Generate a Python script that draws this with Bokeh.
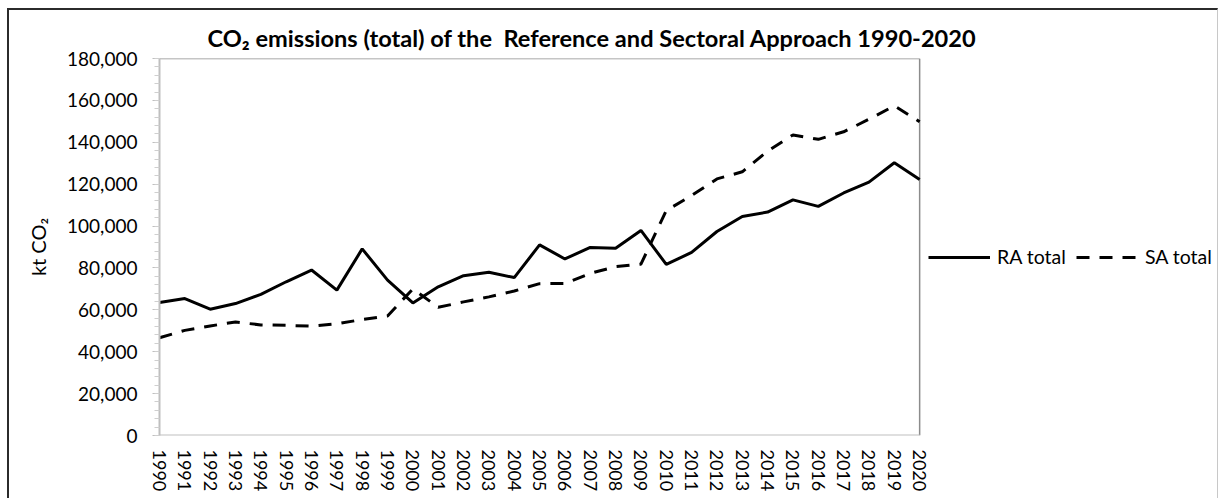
from bokeh.plotting import figure
from bokeh.models import (Range1d, FixedTicker, NumeralTickFormatter, Legend, LegendItem)
from bokeh.embed import file_html
from bokeh.resources import INLINE

years = [1990, 1991, 1992, 1993, 1994, 1995, 1996, 1997, 1998, 1999,
         2000, 2001, 2002, 2003, 2004, 2005, 2006, 2007, 2008, 2009,
         2010, 2011, 2012, 2013, 2014, 2015, 2016, 2017, 2018, 2019, 2020]
ra_total = [63500, 65400, 60300, 63000, 67400, 73400, 79000, 69400, 89100, 74200,
            63300, 71000, 76300, 77900, 75400, 91000, 84300, 89800, 89400, 97900,
            81700, 87400, 97400, 104600, 106700, 112500, 109400, 115800, 121000, 130200, 122200]
sa_total = [46700, 50200, 52300, 54200, 52800, 52600, 52200, 53300, 55400, 57100,
            70000, 61200, 63800, 66200, 69000, 72500, 72600, 77400, 80600, 81800,
            107400, 114600, 122500, 125900, 135800, 143500, 141400, 145000, 151000, 157400, 149800]
y_ticks = [0, 20000, 40000, 60000, 80000, 100000, 120000, 140000, 160000, 180000]
y_minor = list(range(0, 180001, 4000))

title_text = "CO\u2082 emissions (total) of the\u00a0 Reference and Sectoral Approach 1990-2020"
y_label = "kt CO\u2082"
series_names = ["RA total", "SA total"]

FONT = "Lato"

# plot area (years) occupies 758 px of a 1058 px frame; the rest holds the legend
x0, x1 = years[0], years[-1]
x_end = x0 + (x1 - x0) * 1058.0 / 758.0

p = figure(width=1208, height=488, output_backend="svg", toolbar_location=None,
           x_range=Range1d(x0, x_end), y_range=Range1d(0, 180000),
           min_border_left=150, min_border_right=0, min_border_top=48, min_border_bottom=65)
p.styles = {"margin-left": "7px", "margin-top": "8px",
            "border-left": "2px solid #2b2b2b", "border-top": "2px solid #2b2b2b",
            "border-right": "1px solid #c8c8c8", "box-sizing": "content-box"}

p.xgrid.visible = False
p.ygrid.visible = False
p.outline_line_color = None

# plot-area border (top/right darker, bottom axis light)
p.segment(x0=[x0, x1], y0=[y_ticks[-1], 0], x1=[x1, x1], y1=[y_ticks[-1], y_ticks[-1]],
          line_color="#8c8c8c", line_width=1.5)
p.segment(x0=[x0], y0=[0], x1=[x1], y1=[0], line_color="#bfbfbf", line_width=2)

r1 = p.line(years, ra_total, line_color="black", line_width=3)
r2 = p.line(years, sa_total, line_color="black", line_width=3, line_dash="13 10")

# title
p.title.text = title_text
p.title.align = "left"
p.title.offset = 48
p.title.text_font = FONT
p.title.text_font_size = "23.6px"
p.title.text_font_style = "bold"
p.title.text_color = "black"
p.title.standoff = 14

# axes
xa = p.xaxis[0]
xa.ticker = FixedTicker(ticks=years)
xa.major_label_orientation = "vertical"
xa.major_label_text_font = FONT
xa.major_label_text_font_size = "18px"
xa.major_label_text_color = "black"
xa.major_tick_out = 0
xa.major_tick_in = 0
xa.minor_tick_out = 0
xa.minor_tick_in = 0
xa.major_label_standoff = 14
xa.axis_line_color = None

ya = p.yaxis[0]
ya.ticker = FixedTicker(ticks=y_ticks, minor_ticks=y_minor)
ya.formatter = NumeralTickFormatter(format="0,0")
ya.major_label_text_font = FONT
ya.major_label_text_font_size = "19px"
ya.major_label_text_color = "black"
ya.major_tick_out = 7
ya.major_tick_in = 0
ya.minor_tick_out = 5
ya.minor_tick_in = 0
ya.major_tick_line_color = "#bfbfbf"
ya.minor_tick_line_color = "#cfcfcf"
ya.major_label_standoff = 15
ya.axis_line_color = "#bfbfbf"
ya.axis_line_width = 2
ya.axis_label = y_label
ya.axis_label_text_font = FONT
ya.axis_label_text_font_size = "20px"
ya.axis_label_text_font_style = "normal"
ya.axis_label_text_color = "black"
ya.axis_label_standoff = 14

legend = Legend(items=[LegendItem(label=series_names[0], renderers=[r1]),
                       LegendItem(label=series_names[1], renderers=[r2])],
                orientation="horizontal", location=(769, 167),
                glyph_width=62, glyph_height=20, label_standoff=7, spacing=10,
                padding=0, margin=0, border_line_alpha=0, background_fill_alpha=0,
                label_text_font=FONT, label_text_font_size="19.5px", label_text_color="black")
p.add_layout(legend)

open("out.html", "w").write(file_html(p, INLINE))
